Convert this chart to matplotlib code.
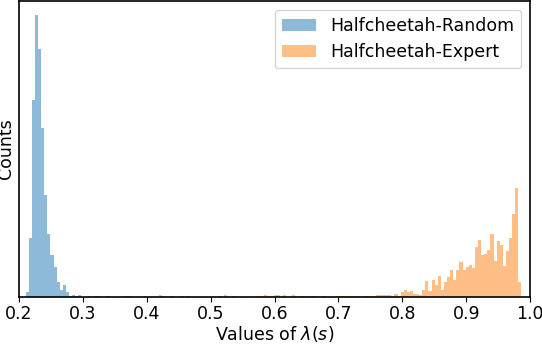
import numpy as np
import matplotlib
matplotlib.use("Agg")
import matplotlib.pyplot as plt

# common bin grid (width ~0.00485)
bin_lo, bin_hi, n_bins = 0.2105, 0.9865, 160

# Halfcheetah-Random: counts for bins 0..26
random_counts = [5, 59, 198, 284, 250, 170, 103, 63, 42, 30, 15, 7, 12, 5,
                 1, 2, 1, 2, 0, 0, 0, 0, 1, 0, 0, 0, 1]

# Halfcheetah-Expert: counts for bins 20..159
expert_first = 20
expert_counts = [
    1, 0, 0, 1, 0, 0, 0, 0, 0, 0,          # 20-29
    0, 1, 1, 1, 0, 0, 0, 0, 1, 0,          # 30-39
    0, 0, 0, 2, 1, 0, 0, 1, 0, 0,          # 40-49
    1, 0, 1, 0, 0, 0, 0, 0, 0, 0,          # 50-59
    0, 0, 1, 0, 2, 0, 0, 1, 0, 0,          # 60-69
    0, 0, 0, 0, 1, 1, 1, 2, 1, 1,          # 70-79
    2, 2, 0, 2, 0, 0, 2, 0, 1, 1,          # 80-89
    1, 1, 1, 1, 0, 0, 1, 0, 0, 0,          # 90-99
    1, 1, 1, 1, 1, 1, 1, 1, 0, 1,          # 100-109
    1, 1, 1, 2, 2, 2, 2, 2, 1, 3,          # 110-119
    1, 5, 7, 5, 6, 3, 3, 2, 7, 16,         # 120-129
    6, 17, 12, 21, 7, 15, 20, 27, 17, 27,  # 130-139
    35, 27, 30, 32, 29, 50, 57, 42, 43, 47,  # 140-149
    63, 36, 56, 52, 31, 46, 59, 84, 110, 15,  # 150-159
]

edges = np.linspace(bin_lo, bin_hi, n_bins + 1)
centers = (edges[:-1] + edges[1:]) / 2

plt.rcParams['font.size'] = 12.5

fig = plt.figure(figsize=(5.42, 3.44), dpi=100)
ax = fig.add_axes([0.035, 0.137, 0.943, 0.86])

x_r = centers[:len(random_counts)]
x_e = centers[expert_first:expert_first + len(expert_counts)]
ax.hist(x_r, bins=edges, weights=random_counts, alpha=0.5,
        color='tab:blue', label='Halfcheetah-Random')
ax.hist(x_e, bins=edges, weights=expert_counts, alpha=0.5,
        color='tab:orange', label='Halfcheetah-Expert')

ax.set_xlim(0.2, 1.0)
ax.set_yticks([])
ax.set_xticks(np.arange(0.2, 1.01, 0.1))
ax.tick_params(axis='x', length=3.5, pad=2.5)
ax.set_xlabel(r'Values of $\lambda(s)$', labelpad=0.5)
ax.set_ylabel('Counts', labelpad=3)
for s in ax.spines.values():
    s.set_linewidth(1.2)
ax.legend(loc='upper right')

fig.savefig('out.png', dpi=100)
